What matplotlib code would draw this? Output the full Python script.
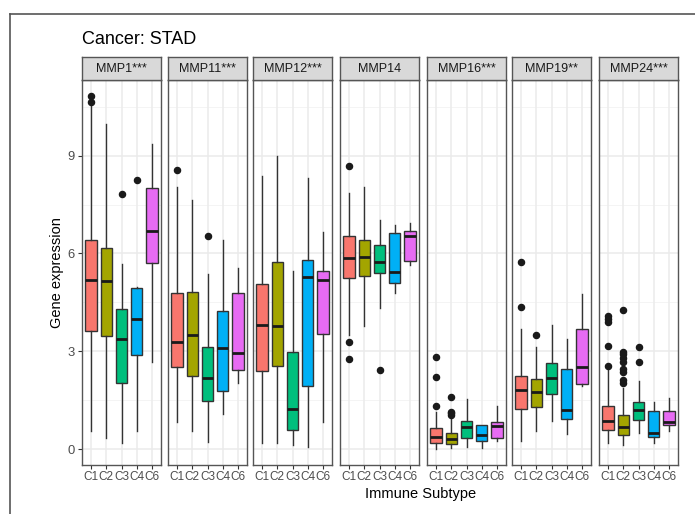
import matplotlib
matplotlib.use("Agg")
import matplotlib.pyplot as plt
from matplotlib.lines import Line2D

plt.rcParams['font.family'] = ['Liberation Sans', 'DejaVu Sans']

# ---------------- data ----------------
genes = ["MMP1***", "MMP11***", "MMP12***", "MMP14", "MMP16***", "MMP19**", "MMP24***"]
subtypes = ["C1", "C2", "C3", "C4", "C6"]
title = "Cancer: STAD"
y_ticks = [0, 3, 6, 9]

whislo = [
    [0.55, 0.33, 0.19, 0.56, 2.68],
    [0.84, 0.56, 0.21, 1.07, 2.04],
    [0.19, 0.17, 0.12, 0.05, 0.84],
    [3.50, 3.78, 4.33, 4.80, 5.65],
    [0.00, 0.02, 0.05, 0.02, 0.26],
    [0.25, 0.55, 0.86, 0.45, 1.93],
    [0.19, 0.12, 0.48, 0.19, 0.56],
]
q1 = [
    [3.63, 3.46, 2.03, 2.89, 5.72],
    [2.52, 2.25, 1.47, 1.79, 2.42],
    [2.40, 2.56, 0.59, 1.93, 3.53],
    [5.24, 5.30, 5.41, 5.09, 5.78],
    [0.19, 0.15, 0.33, 0.25, 0.33],
    [1.24, 1.30, 1.70, 0.91, 2.00],
    [0.58, 0.44, 0.89, 0.38, 0.73],
]
med = [
    [5.18, 5.16, 3.39, 4.00, 6.70],
    [3.28, 3.50, 2.17, 3.09, 2.96],
    [3.80, 3.78, 1.22, 5.27, 5.20],
    [5.87, 5.90, 5.74, 5.44, 6.52],
    [0.38, 0.30, 0.68, 0.43, 0.72],
    [1.81, 1.75, 2.18, 1.19, 2.53],
    [0.87, 0.69, 1.20, 0.48, 0.82],
]
q3 = [
    [6.40, 6.16, 4.31, 4.93, 8.00],
    [4.78, 4.82, 3.14, 4.22, 4.78],
    [5.05, 5.75, 2.98, 5.81, 5.47],
    [6.52, 6.40, 6.27, 6.63, 6.69],
    [0.63, 0.48, 0.86, 0.74, 0.82],
    [2.24, 2.15, 2.63, 2.45, 3.69],
    [1.33, 1.05, 1.43, 1.18, 1.18],
]
whishi = [
    [10.56, 9.97, 5.67, 4.98, 9.35],
    [8.03, 7.65, 5.37, 6.40, 5.55],
    [8.39, 9.00, 5.47, 8.30, 6.65],
    [7.85, 8.05, 7.03, 6.87, 6.93],
    [1.15, 0.94, 1.54, 0.74, 1.33],
    [3.68, 3.14, 3.81, 3.39, 4.75],
    [2.49, 1.86, 2.09, 1.45, 1.56],
]
outliers = [
    [[10.82, 10.66], [], [7.82], [8.26], []],
    [[8.57], [], [6.52], [], []],
    [[], [], [], [], []],
    [[8.67, 3.28, 2.76], [], [2.43], [], []],
    [[2.81, 2.21, 1.33], [1.59, 1.15, 1.10, 1.03], [], [], []],
    [[5.74, 4.37], [3.50], [], [], []],
    [[4.08, 3.98, 3.91, 3.17, 2.56],
     [4.27, 2.97, 2.91, 2.80, 2.66, 2.45, 2.37, 2.12, 2.04],
     [3.14, 2.66], [], []],
]

colors = ["#F8766D", "#A3A500", "#00BF7D", "#00B0F6", "#E76BF3"]

# ---------------- layout ----------------
W, H = 695, 514
fig = plt.figure(figsize=(W / 100, H / 100), dpi=100)

panel_left = [82, 168, 253, 340, 427, 512, 599]
panel_w = 79
panel_top, panel_bot = 80, 465
strip_top = 57

def fx(x):
    return x / W

def fy(y):
    return 1 - y / H

ylim = (-0.49, 11.32)
edge = "#333333"

for gi, gene in enumerate(genes):
    x0 = panel_left[gi]
    ax = fig.add_axes([fx(x0), fy(panel_bot), panel_w / W, (panel_bot - panel_top) / H])
    ax.set_xlim(0.4, 5.6)
    ax.set_ylim(*ylim)
    # grid
    for v in y_ticks:
        ax.axhline(v, color="#EBEBEB", lw=1.1, zorder=0)
    for v in [1.5, 4.5, 7.5, 10.5]:
        ax.axhline(v, color="#F2F2F2", lw=0.6, zorder=0)
    for p in range(1, 6):
        ax.axvline(p, color="#EBEBEB", lw=1.1, zorder=0)

    stats = []
    for si in range(5):
        stats.append(dict(med=med[gi][si], q1=q1[gi][si], q3=q3[gi][si],
                          whislo=whislo[gi][si], whishi=whishi[gi][si],
                          fliers=outliers[gi][si]))
    bp = ax.bxp(stats, positions=range(1, 6), widths=0.75, patch_artist=True,
                showcaps=False,
                boxprops=dict(edgecolor=edge, linewidth=1.0),
                whiskerprops=dict(color=edge, linewidth=1.0),
                medianprops=dict(color="#1a1a1a", linewidth=2.0),
                flierprops=dict(marker='o', markerfacecolor="#1a1a1a",
                                markeredgecolor="#1a1a1a", markersize=4.4))
    for patch, c in zip(bp['boxes'], colors):
        patch.set_facecolor(c)

    ax.set_xticks(range(1, 6))
    ax.set_xticklabels(subtypes, fontsize=8.5, color="#4D4D4D")
    ax.tick_params(axis='x', length=3, width=0.8, color=edge, pad=1.5)
    if gi == 0:
        ax.set_yticks(y_ticks)
        ax.set_yticklabels([str(v) for v in y_ticks], fontsize=9.4, color="#4D4D4D")
        ax.tick_params(axis='y', length=3, width=0.8, color=edge, pad=2)
        ax.set_ylabel("Gene expression", fontsize=10.5, labelpad=3)
    else:
        ax.set_yticks(y_ticks)
        ax.tick_params(axis='y', length=0, labelleft=False)
    for sp in ax.spines.values():
        sp.set_color("#555555")
        sp.set_linewidth(1.0)

    # strip
    sax = fig.add_axes([fx(x0), fy(panel_top), panel_w / W, (panel_top - strip_top) / H])
    sax.set_facecolor("#D9D9D9")
    sax.set_xticks([])
    sax.set_yticks([])
    for sp in sax.spines.values():
        sp.set_color("#555555")
        sp.set_linewidth(1.0)
    sax.text(0.5, 0.5, gene, ha='center', va='center', fontsize=9,
             color="#1A1A1A", transform=sax.transAxes)

fig.text(fx(82), fy(40), title, ha='left', va='center', fontsize=13, color="#000000")
fig.text(fx(421), fy(494), "Immune Subtype", ha='center', va='center', fontsize=10.5)

# outer frame lines of the screenshot
fig.add_artist(Line2D([fx(10), 1.0], [fy(14), fy(14)], color="#555555", lw=1.2))
fig.add_artist(Line2D([fx(10), fx(10)], [fy(14), 0.0], color="#555555", lw=1.2))

fig.savefig("out.png", dpi=100)
